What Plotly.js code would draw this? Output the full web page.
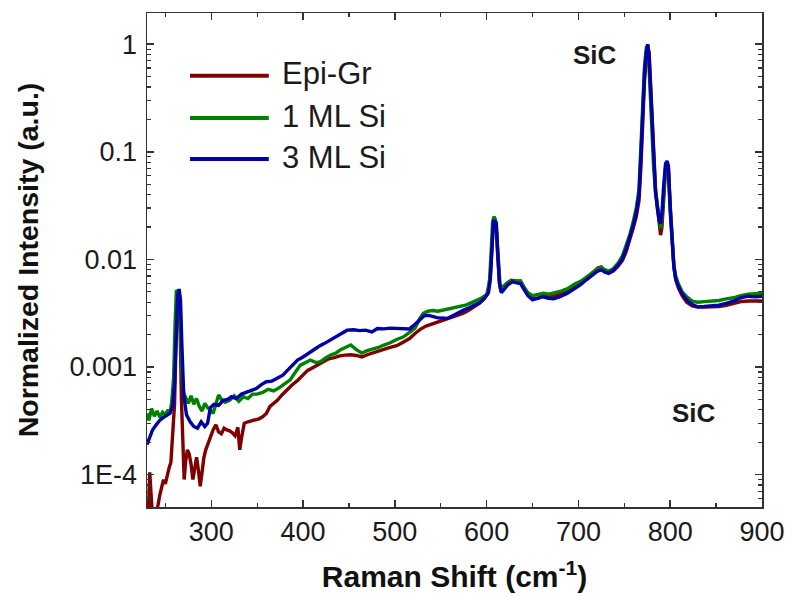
<!DOCTYPE html>
<html>
<head>
<meta charset="utf-8">
<script src="https://cdn.plot.ly/plotly-3.0.1.min.js"></script>
<style>html,body{margin:0;padding:0;background:#fff;}#chart{width:785px;height:596px;}</style>
</head>
<body>
<div id="chart"></div>
<script>
// ---- Data ----
var seriesNames = ['Epi-Gr', '1 ML Si', '3 ML Si'];
var seriesColors = ['#800000', '#008000', '#0000a8'];

var xEpi = [230,231.5,233,234.5,236,238,240,242,244,246,248,250,252,254,256,258,260,261.5,263,264.5,266,267.5,269,270.5,272,274,276,278,280,282,284,286,288,290,292,294,296,299,302,305,308,311,314,317,320,323,326,329,331,333,336,340,344,348,352,356,360,364,368,372,377,382,388,394,400,405,410,416,422,428,434,440,446,452,458,464,470,476,482,488,495,502,509,516,522,528,534,540,547,553,560,567,574,580,586,592,597,601,604,606,607.5,609,610.5,612,614,616,619,623,627,632,637,641,645,650,656,662,668,675,682,689,696,703,710,716,721,725,729,733,738,743,748,752,756,760,763,766,768,770,772,774,775.5,777,778.5,780,782,784,786,788,789.5,791,793,795,796.5,798,800,802,804,806,809,813,818,824,830,837,845,853,861,869,877,885,893,900];
var yEpi = [4e-5,4.5e-5,1.05e-4,6e-5,4e-5,4e-5,4.5e-5,5.2e-5,6.5e-5,7.5e-5,9e-5,8.2e-5,1.0e-4,1.15e-4,1.3e-4,2.2e-4,4.5e-4,1.5e-3,4.0e-3,5.0e-3,2.5e-3,5e-4,1.6e-4,9e-5,1.3e-4,1.7e-4,1.55e-4,1.25e-4,9e-5,1.2e-4,1.45e-4,1.1e-4,7.8e-5,1.05e-4,1.45e-4,1.7e-4,1.9e-4,2.25e-4,2.6e-4,2.9e-4,2.5e-4,2.4e-4,2.7e-4,2.6e-4,2.55e-4,2.45e-4,2.3e-4,2.75e-4,1.7e-4,2.2e-4,3.0e-4,3.1e-4,3.15e-4,3.25e-4,3.3e-4,3.45e-4,3.7e-4,4.3e-4,4.6e-4,4.9e-4,5.5e-4,6.1e-4,6.8e-4,7.5e-4,8.4e-4,9.3e-4,9.8e-4,1.04e-3,1.12e-3,1.19e-3,1.22e-3,1.27e-3,1.29e-3,1.3e-3,1.28e-3,1.24e-3,1.3e-3,1.36e-3,1.4e-3,1.46e-3,1.52e-3,1.58e-3,1.7e-3,1.84e-3,2.05e-3,2.25e-3,2.4e-3,2.5e-3,2.6e-3,2.7e-3,2.85e-3,3.0e-3,3.15e-3,3.35e-3,3.6e-3,3.9e-3,4.3e-3,4.8e-3,7e-3,0.016,0.023,0.0228,0.021,0.011,6.0e-3,5.1e-3,5.6e-3,6.1e-3,6.4e-3,6.3e-3,6.3e-3,5.4e-3,4.7e-3,4.3e-3,4.35e-3,4.55e-3,4.45e-3,4.6e-3,4.8e-3,5.1e-3,5.6e-3,6.1e-3,6.8e-3,7.6e-3,8.3e-3,8.5e-3,7.8e-3,7.5e-3,7.8e-3,8.6e-3,9.8e-3,0.0118,0.015,0.02,0.025,0.035,0.07,0.2,0.45,0.75,0.93,0.85,0.45,0.18,0.08,0.045,0.031,0.022,0.0168,0.02,0.038,0.07,0.079,0.07,0.032,0.015,8.5e-3,6.5e-3,5.4e-3,4.6e-3,4.0e-3,3.7e-3,3.6e-3,3.6e-3,3.62e-3,3.65e-3,3.75e-3,3.9e-3,4.05e-3,4.1e-3,4.1e-3,4.1e-3];

var xSi1 = [230,232,235,238,241,244,247,250,253,255,257,259,260.5,262,263.5,265,266.5,268,270,272,275,278,281,284,287,290,293,296,299,302,305,308,311,315,320,325,330,335,340,345,350,356,362,368,375,381,386,391,397,403,408,414,419,425,430,436,441,446,452,458,464,470,476,482,488,495,502,509,516,522,527,531,536,541,547,553,559,565,571,577,583,589,595,600,603,605,606.5,608,609.5,611,613,615,618,622,627,632,637,641,645,650,656,662,668,675,682,689,696,703,710,716,721,725,729,733,738,743,748,752,756,760,763,766,768,770,772,774,775.5,777,778.5,780,782,784,786,788,789.5,791,793,795,796.5,798,800,802,804,806,809,813,818,824,830,837,845,853,861,869,877,885,893,900];
var ySi1 = [3.7e-4,3.2e-4,4.1e-4,3.5e-4,3.9e-4,3.4e-4,3.8e-4,3.6e-4,4.0e-4,3.7e-4,4.8e-4,8e-4,2.4e-3,5.2e-3,5.0e-3,4.0e-3,2.0e-3,9e-4,5.7e-4,5.3e-4,4.6e-4,5.4e-4,4.5e-4,5.1e-4,4.3e-4,3.9e-4,4.6e-4,4.2e-4,4.0e-4,3.7e-4,4.5e-4,5.5e-4,5.0e-4,4.7e-4,4.9e-4,5.4e-4,4.8e-4,5.3e-4,5.1e-4,5.6e-4,5.6e-4,5.8e-4,6.2e-4,6.0e-4,6.5e-4,7.0e-4,7.6e-4,8.8e-4,1.04e-3,1.1e-3,1.16e-3,1.1e-3,1.12e-3,1.22e-3,1.29e-3,1.35e-3,1.45e-3,1.52e-3,1.6e-3,1.45e-3,1.35e-3,1.42e-3,1.46e-3,1.52e-3,1.6e-3,1.68e-3,1.8e-3,1.9e-3,2.1e-3,2.3e-3,2.8e-3,3.15e-3,3.3e-3,3.35e-3,3.3e-3,3.38e-3,3.45e-3,3.55e-3,3.65e-3,3.75e-3,3.95e-3,4.15e-3,4.4e-3,4.7e-3,6e-3,0.012,0.022,0.025,0.0235,0.017,8e-3,5.2e-3,5.6e-3,6.0e-3,6.3e-3,6.3e-3,6.2e-3,5.5e-3,4.9e-3,4.6e-3,4.7e-3,4.85e-3,4.75e-3,4.9e-3,5.1e-3,5.4e-3,5.9e-3,6.3e-3,7.0e-3,7.7e-3,8.2e-3,8.4e-3,8.0e-3,7.8e-3,8.2e-3,9.2e-3,0.0108,0.0135,0.017,0.023,0.03,0.045,0.1,0.3,0.62,0.93,0.98,0.6,0.3,0.14,0.07,0.043,0.031,0.024,0.0195,0.024,0.045,0.075,0.08,0.068,0.028,0.014,8.8e-3,7.0e-3,5.9e-3,5.0e-3,4.5e-3,4.1e-3,4.0e-3,4.05e-3,4.1e-3,4.15e-3,4.3e-3,4.4e-3,4.6e-3,4.75e-3,4.8e-3,4.8e-3];

var xSi3 = [230,233,236,240,244,248,252,255,258,260,262,263.5,265,266.5,268,270,273,277,281,285,289,293,296,299,303,308,313,318,322,327,333,338,343,349,355,360,366,372,378,383,389,394,400,406,411,417,423,430,437,443,448,455,462,468,475,481,488,495,502,509,516,522,527,532,537,541,546,551,557,563,569,575,581,587,593,598,602,604,606,607.5,609,610.5,612,614,616,619,623,628,633,637,641,645,650,655,661,667,673,680,688,695,702,709,716,721,725,729,733,737,742,747,752,756,760,763,766,768,770,772,774,775.5,777,778.5,780,782,784,786,788,789.5,791,793,795,796.5,798,800,802,804,806,809,813,818,824,830,837,845,853,861,869,877,885,893,900];
var ySi3 = [1.9e-4,2.2e-4,2.6e-4,2.9e-4,3.2e-4,3.4e-4,3.6e-4,3.7e-4,4.3e-4,7e-4,2.2e-3,4.6e-3,5.3e-3,4.2e-3,1.6e-3,5.5e-4,3.6e-4,3.1e-4,2.8e-4,2.7e-4,3.1e-4,2.8e-4,3.0e-4,4.2e-4,4.5e-4,4.4e-4,4.9e-4,5.0e-4,5.3e-4,5.1e-4,5.6e-4,5.8e-4,6.1e-4,6.3e-4,6.9e-4,7.3e-4,7.4e-4,7.9e-4,8.4e-4,9.3e-4,1.04e-3,1.16e-3,1.24e-3,1.35e-3,1.43e-3,1.55e-3,1.65e-3,1.78e-3,1.95e-3,2.08e-3,2.2e-3,2.22e-3,2.18e-3,2.2e-3,2.12e-3,2.28e-3,2.26e-3,2.3e-3,2.28e-3,2.3e-3,2.26e-3,2.5e-3,2.75e-3,3.0e-3,3.02e-3,2.95e-3,2.88e-3,2.85e-3,2.83e-3,3.0e-3,3.2e-3,3.38e-3,3.55e-3,3.75e-3,4.0e-3,4.4e-3,4.9e-3,6.5e-3,0.014,0.0232,0.0225,0.022,0.012,6.0e-3,4.9e-3,5.3e-3,5.8e-3,6.2e-3,6.1e-3,5.95e-3,5.2e-3,4.6e-3,4.2e-3,4.3e-3,4.5e-3,4.35e-3,4.3e-3,4.5e-3,4.85e-3,5.3e-3,5.8e-3,6.5e-3,7.3e-3,7.8e-3,8.0e-3,7.6e-3,7.4e-3,7.8e-3,8.6e-3,9.8e-3,0.0125,0.016,0.021,0.027,0.04,0.09,0.25,0.55,0.85,1.0,0.75,0.4,0.17,0.075,0.042,0.03,0.023,0.0215,0.027,0.05,0.078,0.082,0.074,0.03,0.014,8.5e-3,6.6e-3,5.6e-3,4.8e-3,4.2e-3,3.8e-3,3.62e-3,3.65e-3,3.7e-3,3.75e-3,3.9e-3,4.1e-3,4.4e-3,4.55e-3,4.5e-3,4.55e-3];

var xTickVals = [300, 400, 500, 600, 700, 800, 900];
var yTickVals = [1e-4, 1e-3, 0.01, 0.1, 1];
var yTickText = ['1E-4', '0.001', '0.01', '0.1', '1'];
var peakLabels = ['SiC', 'SiC'];

// ---- Build ----
var FONT = 'Liberation Sans, Arial, Helvetica, sans-serif';
var xs = [xEpi, xSi1, xSi3];
var ys = [yEpi, ySi1, ySi3];
var traces = [];
for (var i = 0; i < 3; i++) {
  traces.push({
    x: xs[i], y: ys[i], name: seriesNames[i], type: 'scatter', mode: 'lines',
    line: {color: seriesColors[i], width: 3.4}, showlegend: false
  });
}

var minorY = [];
for (var d = -5; d <= 0; d++) {
  for (var m = 2; m <= 9; m++) minorY.push(m * Math.pow(10, d));
}

// custom legend (long line samples like the reference)
var legY = [0.873, 0.7874, 0.7045];
var shapes = [];
var annotations = [];
for (var k = 0; k < 3; k++) {
  shapes.push({type: 'line', xref: 'paper', yref: 'paper', x0: 0.0699, x1: 0.198,
    y0: legY[k], y1: legY[k], line: {color: seriesColors[k], width: 4}});
  annotations.push({xref: 'paper', yref: 'paper', x: 0.216, y: legY[k] + 0.004,
    xanchor: 'left', yanchor: 'middle', showarrow: false, text: seriesNames[k],
    font: {family: FONT, size: 31, color: '#1a1a1a'}});
}
annotations.push({xref: 'paper', yref: 'paper', x: 0.7285, y: 0.915, showarrow: false,
  xanchor: 'center', yanchor: 'middle', text: '<b>' + peakLabels[0] + '</b>',
  font: {family: FONT, size: 26, color: '#1a1a1a'}});
annotations.push({xref: 'paper', yref: 'paper', x: 0.890, y: 0.190, showarrow: false,
  xanchor: 'center', yanchor: 'middle', text: '<b>' + peakLabels[1] + '</b>',
  font: {family: FONT, size: 26, color: '#1a1a1a'}});

var layout = {
  width: 785, height: 596,
  margin: {l: 147, r: 23, t: 13, b: 89},
  paper_bgcolor: '#fff', plot_bgcolor: '#fff',
  showlegend: false,
  font: {family: FONT, color: '#1a1a1a'},
  xaxis: {
    range: [230, 900], showgrid: false, zeroline: false,
    showline: true, linecolor: '#333', linewidth: 1.5, mirror: 'ticks',
    ticks: 'inside', ticklen: 7, tickwidth: 1.5, tickcolor: '#333',
    tickvals: xTickVals,
    tickfont: {family: FONT, size: 27, color: '#1a1a1a'},
    minor: {ticks: 'inside', ticklen: 4, tickwidth: 1.2, tickcolor: '#333', dtick: 50, tick0: 0, showgrid: false},
    title: {text: '<b>Raman Shift (cm<sup>-1</sup>)</b>', font: {family: FONT, size: 30, color: '#111'}, standoff: 20},
    automargin: false
  },
  yaxis: {
    type: 'log', range: [-4.301, 0.29], showgrid: false, zeroline: false,
    showline: true, linecolor: '#333', linewidth: 1.5, mirror: 'ticks',
    ticks: 'inside', ticklen: 7, tickwidth: 1.5, tickcolor: '#333',
    tickvals: yTickVals, ticktext: yTickText, ticklabelstandoff: 3,
    tickfont: {family: FONT, size: 27, color: '#1a1a1a'},
    minor: {ticks: 'inside', ticklen: 4, tickwidth: 1.2, tickcolor: '#333', tickvals: minorY, showgrid: false},
    title: {text: '<b>Normalized Intensity (a.u.)</b>', font: {family: FONT, size: 28.5, color: '#111'}, standoff: 22},
    automargin: false
  },
  shapes: shapes,
  annotations: annotations
};

Plotly.newPlot('chart', traces, layout, {displayModeBar: false, staticPlot: true});
</script>
</body>
</html>
